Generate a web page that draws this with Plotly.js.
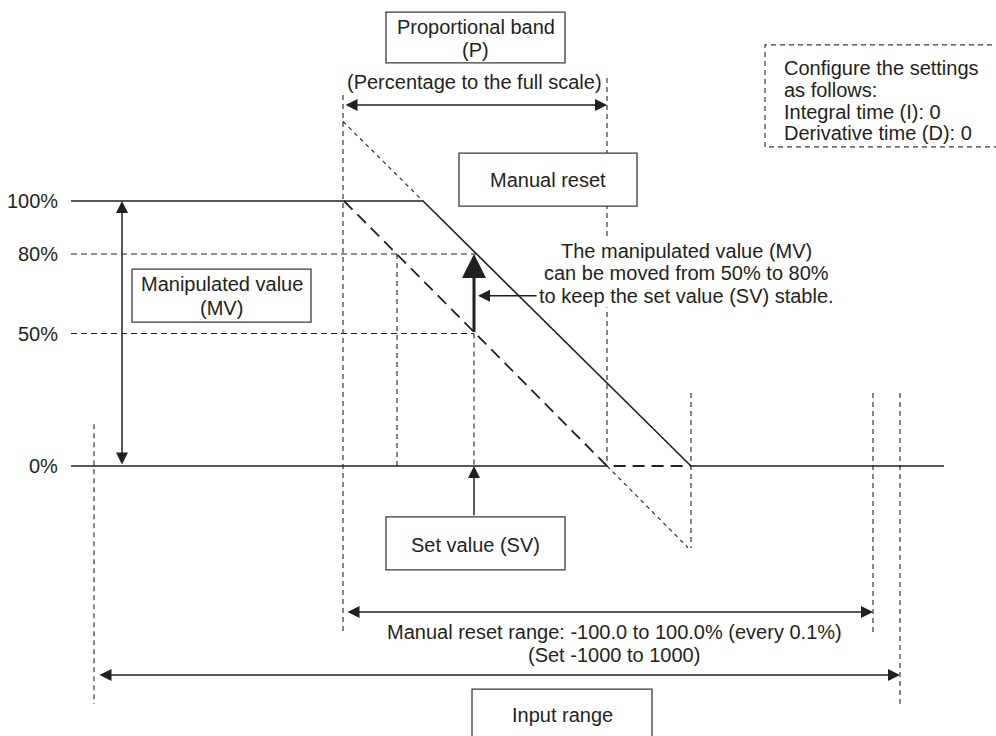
<!DOCTYPE html>
<html>
<head>
<meta charset="utf-8">
<script src="https://cdn.plot.ly/plotly-3.0.1.min.js"></script>
<style>html,body{margin:0;padding:0;background:#fff;}#chart{width:996px;height:736px;}</style>
</head>
<body>
<div id="chart"></div>
<script>
// ---------- data (x: input position along the diagram, y: manipulated value %) ----------
const yTickVals = [100, 80, 50, 0];
const yTickText = ['100%', '80%', '50%', '0%'];

// characteristic with manual reset (solid)
const resetX = [71, 423, 691, 944];
const resetY = [100, 100, 0, 0];
// base line at 0%
const baseX = [71, 607];
const baseY = [0, 0];
// characteristic without manual reset (long dash)
const noResetX = [344, 607, 691];
const noResetY = [100, 0, 0];
// dotted extensions of the two characteristics
const extResetX = [343, 423];
const extResetY = [130, 100];
const extNoResetX = [607, 688];
const extNoResetY = [0, -30.8];

// horizontal guides (80%, 50%)
const hGuideX = [71, 476, null, 71, 474];
const hGuideY = [80, 80, null, 50, 50];
// vertical guides
const vGuideX = [397, 397, null, 474, 474, null, 343, 343, null, 607, 607, null, 691, 691, null, 873, 873, null, 900, 900, null, 94, 94];
const vGuideY = [80, 0, null, 50, 0, null, 140, -63.8, null, 146.4, 0, null, 27.5, -30.9, null, 27.5, -62.6, null, 27.5, -89.8, null, 15.8, -89.8];

// arrows: tail -> head, double = heads at both ends, thick = bold arrow
const arrowTailX = [344, 122, 474, 538, 474, 346, 98];
const arrowTailY = [136.2, 0, 50, 64.2, -19.2, -55.1, -78.9];
const arrowHeadX = [607, 122, 474, 478, 474, 873, 900];
const arrowHeadY = [136.2, 100, 80, 64.2, 0, -55.1, -78.9];
const arrowDouble = [true, true, false, false, false, true, true];
const arrowThick = [false, false, true, false, false, false, false];

// boxes
const boxX0 = [386, 459, 132, 386, 472];
const boxX1 = [565, 637, 311, 565, 652];
const boxY0 = [152.1, 98.1, 54.3, -39.2, -105];
const boxY1 = [171.3, 118.1, 74.3, -19.2, -84.2];
// dashed settings box (open to the right)
const noteBoxX = [1010, 765, 765, 1010];
const noteBoxY = [158.9, 158.9, 120.4, 120.4];

// texts
const labelText = [
  'Proportional band', '(P)', '(Percentage to the full scale)',
  'Manual reset',
  'Manipulated value', '(MV)',
  'The manipulated value (MV)', 'can be moved from 50% to 80%', 'to keep the set value (SV) stable.',
  'Set value (SV)',
  'Manual reset range: -100.0 to 100.0% (every 0.1%)', '(Set -1000 to 1000)',
  'Input range',
  'Configure the settings', 'as follows:', 'Integral time (I): 0', 'Derivative time (D): 0'
];
const labelX = [475.5, 475.5, 474, 548, 221.5, 221.5, 686, 686, 686, 475.5, 614, 614, 562, 783, 783, 783, 783];
const labelY = [165.7, 157.0, 144.9, 107.9, 68.7, 59.6, 81.1, 72.8, 64.2, -29.8, -62.6, -71.3, -94.0, 150.2, 141.9, 133.6, 125.7];
const labelAlign = ['center','center','center','center','center','center','center','center','center','center','center','center','center','left','left','left','left'];
const labelBg = [false,false,false,false,false,false,true,true,true,false,false,false,false,false,false,false,false];

// ---------- drawing ----------
const INK = '#231f20';
const FONT = 'Liberation Sans, Arial, Helvetica, sans-serif';
const FS = 20;

function line(x, y, width, dash) {
  return {type: 'scatter', mode: 'lines', x: x, y: y, connectgaps: false, hoverinfo: 'skip',
    line: {color: INK, width: width, dash: dash || 'solid'}};
}

const traces = [
  line(hGuideX, hGuideY, 1.1, '6px,4px'),
  line(vGuideX, vGuideY, 1.1, '5px,4px'),
  line(extResetX, extResetY, 1.1, '4px,4px'),
  line(extNoResetX, extNoResetY, 1.1, '4px,4px'),
  line(baseX, baseY, 1.5),
  line(noResetX, noResetY, 1.8, '12px,7px'),
  line(resetX, resetY, 1.6)
];

const shapes = [];
for (let i = 0; i < boxX0.length; i++) {
  shapes.push({type: 'rect', xref: 'x', yref: 'y', x0: boxX0[i], x1: boxX1[i], y0: boxY0[i], y1: boxY1[i],
    fillcolor: '#ffffff', line: {color: '#3a3a3a', width: 1.3}, layer: 'above'});
}
let p = 'M' + noteBoxX.map((v, i) => v + ',' + noteBoxY[i]).join(' L');
shapes.push({type: 'path', xref: 'x', yref: 'y', path: p, fillcolor: 'rgba(0,0,0,0)',
  line: {color: '#3a3a3a', width: 1.2, dash: '5px,4px'}, layer: 'above'});

const annotations = [];
for (let i = 0; i < arrowTailX.length; i++) {
  const thick = arrowThick[i];
  const a = {x: arrowHeadX[i], y: arrowHeadY[i], ax: arrowTailX[i], ay: arrowTailY[i],
    xref: 'x', yref: 'y', axref: 'x', ayref: 'y', text: '', showarrow: true,
    arrowcolor: INK, arrowhead: 2, arrowwidth: thick ? 3 : 1.5, arrowsize: thick ? 1.6 : 1.6,
    standoff: 0, startstandoff: 0};
  if (arrowDouble[i]) {
    a.arrowside = 'end+start';
    a.startarrowhead = 2;
    a.startarrowsize = 1.6;
  }
  annotations.push(a);
}
for (let i = 0; i < yTickVals.length; i++) {
  annotations.push({x: 60, y: yTickVals[i], xref: 'x', yref: 'y', text: yTickText[i], showarrow: false,
    xanchor: 'right', yanchor: 'middle', font: {family: FONT, size: FS, color: INK}});
}
for (let i = 0; i < labelText.length; i++) {
  annotations.push({x: labelX[i], y: labelY[i], xref: 'x', yref: 'y', text: labelText[i], showarrow: false,
    xanchor: labelAlign[i], yanchor: 'middle', borderpad: 0,
    bgcolor: labelBg[i] ? '#ffffff' : 'rgba(0,0,0,0)',
    font: {family: FONT, size: FS, color: INK}});
}

const layout = {
  width: 996, height: 736,
  margin: {l: 0, r: 0, t: 0, b: 0, pad: 0},
  paper_bgcolor: '#ffffff', plot_bgcolor: '#ffffff',
  showlegend: false,
  xaxis: {range: [0, 996], visible: false, fixedrange: true},
  yaxis: {range: [-101.89, 175.85], visible: false, fixedrange: true},
  shapes: shapes,
  annotations: annotations,
  font: {family: FONT, color: INK}
};

Plotly.newPlot('chart', traces, layout, {staticPlot: true, displayModeBar: false});
</script>
</body>
</html>
